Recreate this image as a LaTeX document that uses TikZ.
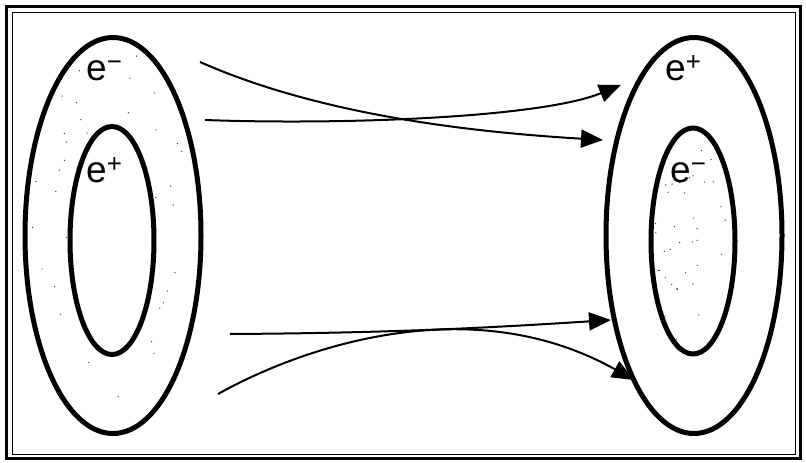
\documentclass[tikz,border=0pt]{standalone}
\usepackage{fontspec}
\setmainfont{Liberation Sans}
\usetikzlibrary{shapes.geometric,arrows.meta}
\tikzset{
  ring/.style={draw, ellipse, line width=5pt, inner sep=0pt},
  lbl/.style={anchor=base west, inner sep=0pt, font=\fontsize{37}{37}\selectfont},
  flow/.style={line width=2pt, -{Triangle[length=22pt,width=18pt]}},
  speck/.style={fill=black!75}
}
\begin{document}
\begin{tikzpicture}[x=1pt,y=-1pt]
\useasboundingbox (0,0) rectangle (806,463);
% frame
\draw[line width=3pt] (6.5,6.5) rectangle (800.5,458.5);
\draw[line width=1pt] (12,12) rectangle (795.5,454);
% speckle
\pgfmathsetseed{11}
\begin{scope}[even odd rule]
  \clip (113,235.5) ellipse [x radius=85, y radius=195]
        (112,240) ellipse [x radius=45, y radius=117];
  \foreach \i in {1,...,70}{
    \fill[speck] ({27+160*rnd},{45+380*rnd}) circle (0.7);
  }
\end{scope}
\begin{scope}
  \clip (693,241) ellipse [x radius=39, y radius=111];
  \foreach \i in {1,...,45}{
    \fill[speck] ({655+75*rnd},{135+210*rnd}) circle (0.7);
  }
\end{scope}
% ellipses
\node[ring, minimum width=176pt, minimum height=396pt] (lo) at (113,235.5) {};
\node[ring, minimum width=84pt, minimum height=228pt] (li) at (112,240.5) {};
\node[ring, minimum width=176pt, minimum height=396pt] (ro) at (694,235.5) {};
\node[ring, minimum width=84pt, minimum height=226pt] (ri) at (693,241) {};
% labels
\node[lbl] (l1) at (86,80) {e\textsuperscript{−}};
\node[lbl] (l2) at (86,182) {e\textsuperscript{+}};
\node[lbl] (l3) at (665,80) {e\textsuperscript{+}};
\node[lbl] (l4) at (670,182) {e\textsuperscript{−}};
% arrow ends
\coordinate (s1) at (200,62);
\coordinate (t1) at (603,140);
\coordinate (s2) at (205,120);
\coordinate (t2) at (621,85);
\coordinate (s3) at (230,334);
\coordinate (t3) at (611,320);
\coordinate (s4) at (218,394);
\coordinate (t4) at (634,380);
\draw[flow] (s1) .. controls (320,115) and (470,132) .. (t1);
\draw[flow] (s2) .. controls (340,125) and (540,118) .. (t2);
\draw[flow] (s3) .. controls (400,333) and (500,327) .. (t3);
\draw[flow] (s4) .. controls (300,348) and (470,288) .. (t4);
\end{tikzpicture}
\end{document}
